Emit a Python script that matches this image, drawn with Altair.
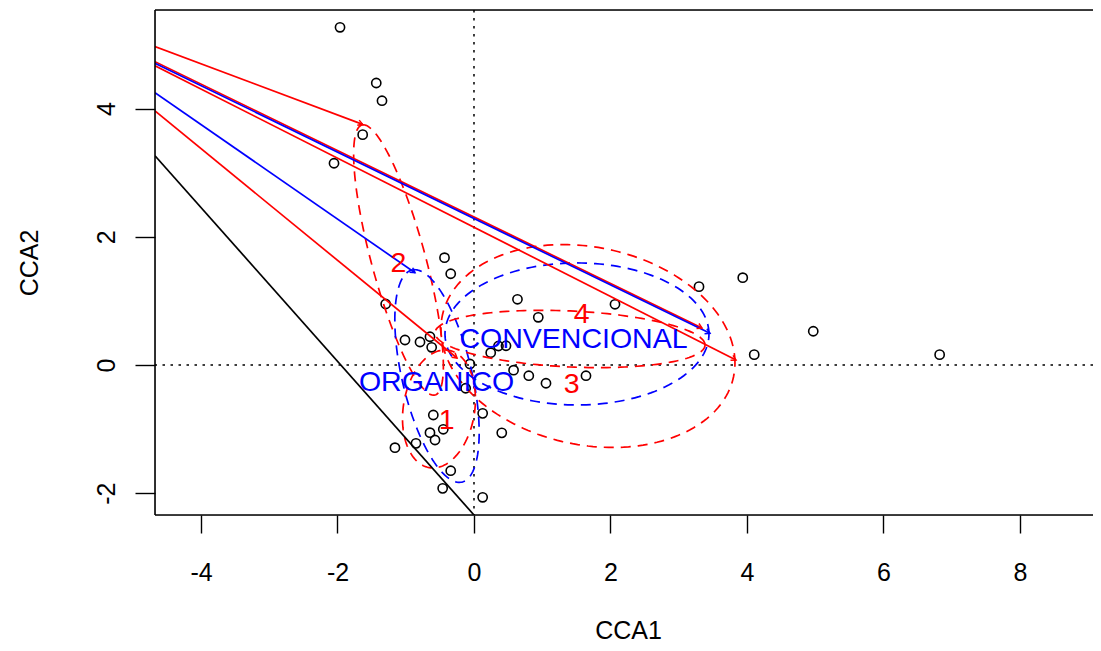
import math

import altair as alt
import numpy as np
import pandas as pd

FONT = "Liberation Sans"
RED = "#FF0000"
BLUE = "#0000FF"

# ---- site scores (CCA1, CCA2) ----
site_x = [-1.963, -1.432, -1.348, -1.631, -2.051, -0.432, -0.341, 0.637, 0.942, -1.294,
          -1.011, -0.791, -0.645, -0.620, -0.059, -0.122, 0.245, 0.359, 0.469, 0.580,
          0.803, 1.055, 1.641, 2.066, 3.297, 3.938, 4.106, 4.971, 6.823, -0.596,
          -0.450, -0.645, -0.571, 0.127, 0.407, -1.158, -0.850, -0.341, -0.459, 0.127]
site_y = [5.268, 4.399, 4.123, 3.593, 3.147, 1.674, 1.423, 1.025, 0.744, 0.952,
          0.390, 0.359, 0.441, 0.276, 0.016, -0.363, 0.192, 0.296, 0.300, -0.081,
          -0.167, -0.285, -0.167, 0.947, 1.222, 1.362, 0.161, 0.526, 0.161, -0.780,
          -1.003, -1.056, -1.170, -0.754, -1.058, -1.290, -1.222, -1.649, -1.924, -2.064]

# ---- solid segments (start on the left border, end inside) ----
seg_x0 = [-4.674, -4.674, -4.674, -4.674, -4.674, -4.674, -4.674]
seg_y0 = [4.966, 4.732, 4.707, 4.669, 4.248, 3.962, 3.265]
seg_x1 = [-1.631, 3.341, 3.458, 3.839, -0.864, -0.249, 0.000]
seg_y1 = [3.754, 0.577, 0.495, 0.078, 1.439, 0.109, -2.340]
seg_col = [RED, RED, BLUE, RED, BLUE, RED, "black"]
seg_head = [True, True, True, True, True, True, False]

# ---- dashed ellipses: centre and two conjugate semi-diameters ----
ell_name = ["2", "ORGANICO", "1", "3", "4", "CONVENCIONAL"]
ell_cx = [-1.106, -0.542, -0.513, 1.670, 1.407, 1.509]
ell_cy = [1.638, -0.172, -0.686, 0.296, 0.406, 0.484]
ell_ux = [-0.535, -0.366, 0.088, 2.154, 1.978, 1.934]
ell_uy = [2.106, 1.654, 0.920, -0.265, -0.094, 0.000]
ell_vx = [0.382, 0.498, 0.527, 0.000, 0.000, 0.000]
ell_vy = [0.109, 0.125, 0.000, 1.560, 0.437, 1.108]
ell_col = [RED, BLUE, RED, RED, RED, BLUE]

# ---- text labels ----
lab_text = ["CONVENCIONAL", "ORGANICO", "1", "2", "3", "4"]
lab_x = [1.458, -0.549, -0.400, -1.109, 1.431, 1.578]
lab_y = [0.412, -0.259, -0.852, 1.587, -0.296, 0.796]
lab_col = [BLUE, BLUE, RED, RED, RED, RED]

# axis ticks
x_ticks = [-4, -2, 0, 2, 4, 6, 8]
y_ticks = [-2, 0, 2, 4]
X_DOMAIN = [-4.674, 9.070]
Y_DOMAIN = [-2.34, 5.538]
W, H = 938, 505
PX_X = W / (X_DOMAIN[1] - X_DOMAIN[0])
PX_Y = H / (Y_DOMAIN[1] - Y_DOMAIN[0])

# ---- tables ----
sites = pd.DataFrame({"x": site_x, "y": site_y})
segs = pd.DataFrame({"x": seg_x0, "y": seg_y0, "x2": seg_x1, "y2": seg_y1, "col": seg_col})
heads = []
for i in range(len(seg_x0)):
    if not seg_head[i]:
        continue
    ang = math.degrees(math.atan2(-(seg_y1[i] - seg_y0[i]) * PX_Y, (seg_x1[i] - seg_x0[i]) * PX_X))
    heads.append({"x": seg_x1[i], "y": seg_y1[i], "ang": ang % 360, "col": seg_col[i]})
heads = pd.DataFrame(heads)

t = np.linspace(0, 2 * np.pi, 181)
rows = []
for i, name in enumerate(ell_name):
    for k, tt in enumerate(t):
        rows.append({
            "id": name, "k": k, "col": ell_col[i],
            "x": ell_cx[i] + ell_ux[i] * np.cos(tt) + ell_vx[i] * np.sin(tt),
            "y": ell_cy[i] + ell_uy[i] * np.cos(tt) + ell_vy[i] * np.sin(tt),
        })
ells = pd.DataFrame(rows)
labs = pd.DataFrame({"text": lab_text, "x": lab_x, "y": lab_y, "col": lab_col})
one = pd.DataFrame({"a": [0]})

xaxis = alt.Axis(values=x_ticks, grid=False, domain=False, tickSize=18, tickColor="black",
                 tickWidth=1.4, labelFont=FONT, labelFontSize=25, labelColor="black",
                 labelPadding=27, labelBaseline="top", labelFlush=False, labelOverlap=False,
                 labelExpr="'' + datum.value",
                 title="CCA1", titleFont=FONT, titleFontSize=25, titleFontWeight="normal",
                 titleColor="black", titleX=473, titleY=123, titleBaseline="alphabetic",
                 titleAlign="center")
yaxis = alt.Axis(values=y_ticks, grid=False, domain=False, tickSize=20, tickColor="black",
                 tickWidth=1.4, labelFont=FONT, labelFontSize=25, labelColor="black",
                 labelAngle=270, labelAlign="center", labelBaseline="alphabetic",
                 labelPadding=21, labelFlush=False, labelOverlap=False,
                 labelExpr="'' + datum.value",
                 title="CCA2", titleFont=FONT, titleFontSize=25, titleFontWeight="normal",
                 titleColor="black", titleAngle=270, titleX=-125.5, titleY=H / 2,
                 titleBaseline="middle", titleAlign="center")

xs = alt.Scale(domain=X_DOMAIN, nice=False, zero=False)
ys = alt.Scale(domain=Y_DOMAIN, nice=False, zero=False)


def X(f="x"):
    return alt.X(f"{f}:Q", scale=xs, axis=xaxis, title="CCA1")


def Y(f="y"):
    return alt.Y(f"{f}:Q", scale=ys, axis=yaxis, title="CCA2")


pts = alt.Chart(sites).mark_point(shape="circle", filled=False, size=85, strokeWidth=1.6,
                                  color="black", opacity=1, clip=True).encode(x=X(), y=Y())

vline = alt.Chart(one).mark_rule(color="black", strokeDash=[2.5, 5.5], strokeWidth=1.5).encode(
    x=alt.datum(0, scale=xs, axis=xaxis, title="CCA1"))
hline = alt.Chart(one).mark_rule(color="black", strokeDash=[2.5, 5.5], strokeWidth=1.5).encode(
    y=alt.datum(0, scale=ys, axis=yaxis, title="CCA2"))

ellipses = alt.Chart(ells).mark_line(strokeDash=[10, 7], strokeWidth=1.7, clip=True).encode(
    x=X(), y=Y(), detail="id:N", order="k:Q", color=alt.Color("col:N", scale=None))

segments = alt.Chart(segs).mark_rule(strokeWidth=1.7, clip=True).encode(
    x=X(), y=Y(), x2="x2:Q", y2="y2:Q", color=alt.Color("col:N", scale=None))

arrows = alt.Chart(heads).mark_point(shape="M-1,-0.58L0,0L-1,0.58", filled=False, size=90,
                                     strokeWidth=1.5, opacity=1, clip=True).encode(
    x=X(), y=Y(), angle=alt.Angle("ang:Q", scale=None), color=alt.Color("col:N", scale=None))

texts = alt.Chart(labs).mark_text(font=FONT, fontSize=28.5, align="center", baseline="middle").encode(
    x=X(), y=Y(), text="text:N", color=alt.Color("col:N", scale=None))

box_top = alt.Chart(one).mark_rule(color="black", strokeWidth=1.6).encode(
    x=alt.value(0), x2=alt.value(W + 8), y=alt.value(0))
box_left = alt.Chart(one).mark_rule(color="black", strokeWidth=1.6).encode(
    x=alt.value(0), y=alt.value(0), y2=alt.value(H))
box_bottom = alt.Chart(one).mark_rule(color="black", strokeWidth=1.6).encode(
    x=alt.value(0), x2=alt.value(W + 8), y=alt.value(H))

chart = alt.layer(vline, hline, pts, ellipses, segments, arrows, texts,
                  box_top, box_left, box_bottom).properties(
    width=W, height=H,
    padding={"left": 147, "top": 2, "right": 0, "bottom": 127},
    autosize=alt.AutoSizeParams(type="none"),
).configure_view(stroke=None).configure(background="white")

chart.save("out.html", embed_options={"renderer": "svg", "actions": False})
